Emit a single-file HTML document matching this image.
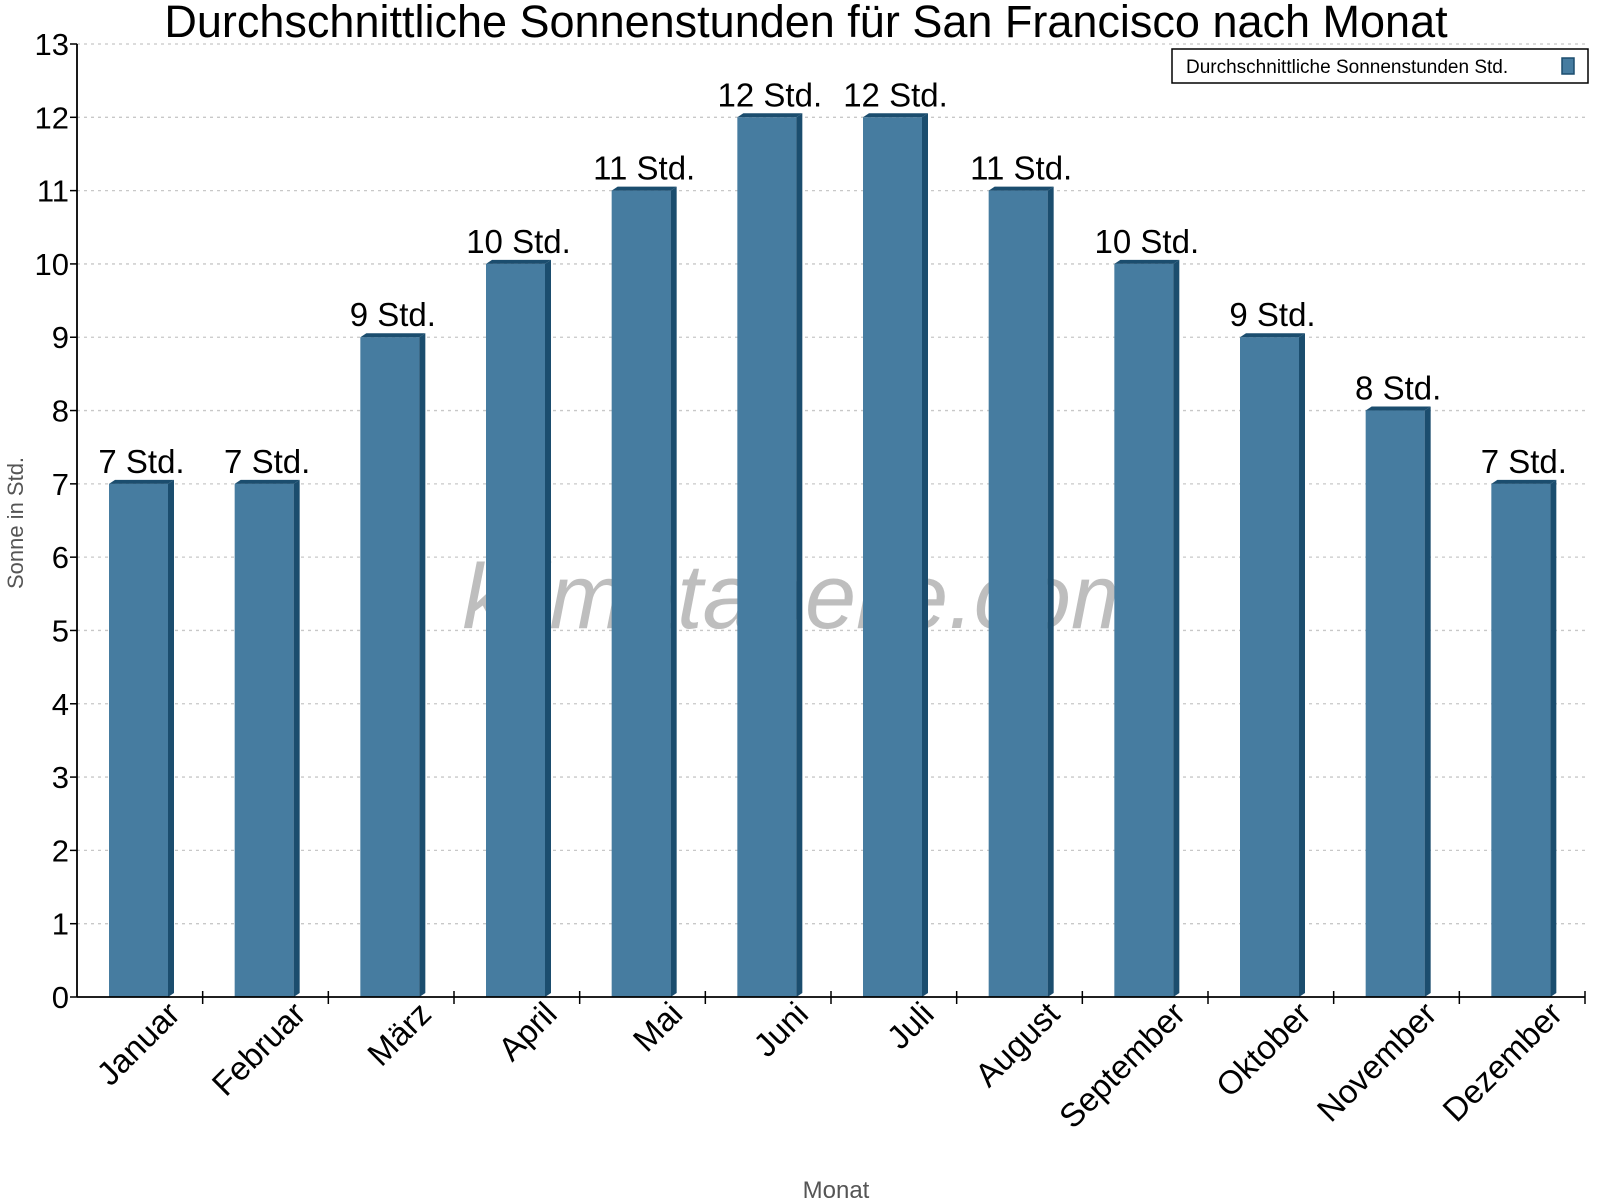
<!DOCTYPE html>
<html><head><meta charset="utf-8"><style>
body{margin:0;background:#fff;}
svg{display:block;font-family:"Liberation Sans",sans-serif;}
</style></head><body>
<svg id="chart" width="1600" height="1200" viewBox="0 0 1600 1200">
<text x="806" y="37" font-size="45" text-anchor="middle" fill="#000">Durchschnittliche Sonnenstunden für San Francisco nach Monat</text>
<text x="805" y="628" font-size="92" font-style="italic" text-anchor="middle" fill="rgba(110,110,110,0.45)">klimatabelle.com</text>
<g id="grid"></g>
<g id="bars"></g>
<g id="axes"></g>
<text transform="translate(23,523) rotate(-90)" font-size="22" text-anchor="middle" fill="#555">Sonne in Std.</text>
<text x="836" y="1198" font-size="24" text-anchor="middle" fill="#555">Monat</text>
<g>
<rect x="1172" y="49" width="416" height="34" fill="#fff" stroke="#000" stroke-width="1.5"/>
<text x="1186" y="73" font-size="19" fill="#000">Durchschnittliche Sonnenstunden Std.</text>
<rect x="1562" y="58" width="12" height="16" fill="#467ca0" stroke="#1b4d6e" stroke-width="1.5"/>
</g>
</svg>
<script>
const months = ["Januar","Februar","März","April","Mai","Juni","Juli","August","September","Oktober","November","Dezember"];
const sunHours = [7,7,9,10,11,12,12,11,10,9,8,7];
const yTicks = [0,1,2,3,4,5,6,7,8,9,10,11,12,13];
const NS = "http://www.w3.org/2000/svg";
const X0 = 77, X1 = 1585, Y0 = 997, YTOP = 44, YMAX = 13;
const slot = (X1 - X0) / months.length;
const y = v => Y0 - (Y0 - YTOP) * v / YMAX;
const xs = i => X0 + i * slot;
function mk(tag, attrs, parent){const e=document.createElementNS(NS,tag);for(const k in attrs)e.setAttribute(k,attrs[k]);parent.appendChild(e);return e;}
const grid=document.getElementById('grid'), bars=document.getElementById('bars'), axes=document.getElementById('axes');
yTicks.forEach(t=>{
  if(t>0){const l=mk('line',{x1:X0,x2:X1,y1:y(t),y2:y(t),stroke:'#c8c8c8','stroke-width':1.3,'stroke-dasharray':'3,4'},grid);
  
  }
  const tk=mk('line',{x1:X0-7,x2:X0,y1:y(t),y2:y(t),stroke:'#000','stroke-width':1.5},axes);
  
  
  const tl=mk('text',{x:X0-8,y:y(t)+11,'font-size':31,'text-anchor':'end',fill:'#000'},axes);
  tl.textContent=t;
  
  
});
sunHours.forEach((v,i)=>{
  const bx=xs(i)+32, bw=59, top=y(v);
  const g=mk('g',{},bars);
  
  
  mk('rect',{x:bx,y:top,width:bw,height:Y0-top,fill:'#467ca0'},g);
  mk('polygon',{points:`${bx+bw},${top} ${bx+bw+6},${top-4} ${bx+bw+6},${Y0-4} ${bx+bw},${Y0}`,fill:'#1b4d6e'},g);
  mk('polygon',{points:`${bx},${top} ${bx+6},${top-4} ${bx+bw+6},${top-4} ${bx+bw},${top}`,fill:'#1b4d6e'},g);
  const lt=mk('text',{x:bx+bw/2+3,y:top-11,'font-size':33,'text-anchor':'middle',fill:'#000'},bars);
  lt.textContent=v+' Std.';
  
  
  const cx=xs(i)+slot/2+42;
  const xl=mk('text',{transform:`translate(${cx},1016) rotate(-45)`,'font-size':33,'text-anchor':'end',fill:'#000'},axes);
  xl.textContent=months[i];
  
  
});
for(let i=1;i<=months.length;i++){
  const t=mk('line',{x1:xs(i),x2:xs(i),y1:Y0-6,y2:Y0+7,stroke:'#000','stroke-width':1.5},axes);
  
  
}
const ya=mk('line',{x1:X0,x2:X0,y1:YTOP,y2:Y0,stroke:'#000','stroke-width':1.8},axes);


const xa=mk('line',{x1:X0,x2:X1,y1:Y0,y2:Y0,stroke:'#000','stroke-width':1.8},axes);


</script>
</body></html>
